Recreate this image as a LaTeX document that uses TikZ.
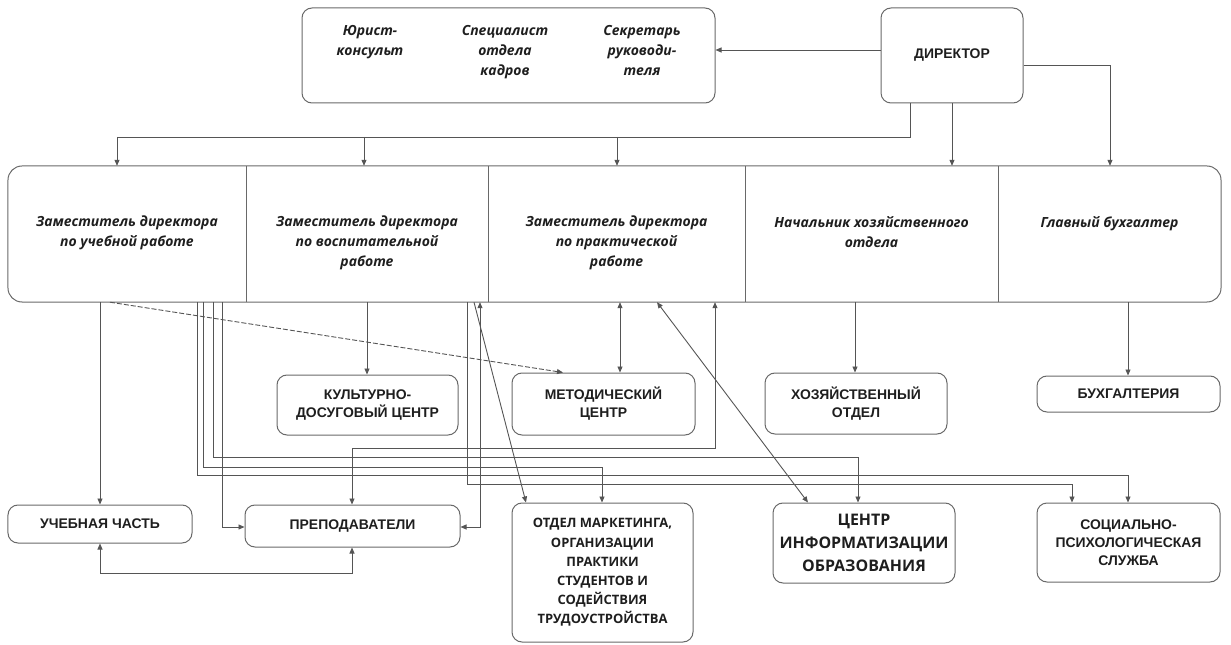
\documentclass[tikz,border=0pt]{standalone}
\usepackage{fontspec}
\setmainfont{Liberation Sans}
\newfontfamily\osans{Open Sans}
\usetikzlibrary{arrows.meta}
\definecolor{lncol}{RGB}{85,85,85}
\definecolor{bxcol}{RGB}{105,105,105}
\definecolor{txcol}{RGB}{30,30,30}
\begin{document}
\begin{tikzpicture}[x=1bp,y=-1bp,
  ln/.style={draw=lncol, line width=0.9bp},
  arr/.style={ln, -{Triangle[length=6bp,width=5bp]}},
  darr/.style={ln, {Triangle[length=6bp,width=5bp]}-{Triangle[length=6bp,width=5bp]}},
  dsh/.style={ln, dash pattern=on 5bp off 2bp, -{Triangle[length=6bp,width=5bp]}},
  rbox/.style={draw=bxcol, line width=1bp, rounded corners=10bp, inner sep=0pt, align=center, text=txcol},
  capf/.style={font=\bfseries\fontsize{14}{18}\selectfont},
  osf/.style={font=\osans\bfseries\fontsize{13}{19.3}\selectfont},
  osb/.style={font=\osans\bfseries\fontsize{16}{23}\selectfont},
  itf/.style={font=\osans\bfseries\itshape\fontsize{14}{20}\selectfont, text=txcol, align=center, inner sep=0pt, anchor=north},
  col/.style={inner sep=0pt, minimum height=136bp},
  divl/.style={draw=bxcol, line width=1bp},
]
\useasboundingbox (0,0) rectangle (1231,645);

% ---------- top level ----------
\node[rbox, minimum width=413bp, minimum height=95bp] (staff) at (508.5,55.5) {};
\node[itf] (s1) at (370,25) {Юрист-\\консульт};
\node[itf] (s2) at (505,25) {Специалист\\отдела\\кадров};
\node[itf] (s3) at (642,25) {Секретарь\\руководи-\\теля};
\node[rbox, capf, minimum width=142bp, minimum height=95bp] (dir) at (952,55.5) {ДИРЕКТОР};

% ---------- deputies row ----------
\node[rbox, minimum width=1213bp, minimum height=136bp, rounded corners=14bp] (row) at (614.5,234) {};
\node[col, minimum width=238bp] (d1) at (127,234) {};
\node[col, minimum width=242bp] (d2) at (367,234) {};
\node[col, minimum width=257bp] (d3) at (616.5,234) {};
\node[col, minimum width=253bp] (d4) at (871.5,234) {};
\node[col, minimum width=223bp] (d5) at (1109.5,234) {};
\draw[divl] (d1.north east) -- (d1.south east);
\draw[divl] (d2.north east) -- (d2.south east);
\draw[divl] (d3.north east) -- (d3.south east);
\draw[divl] (d4.north east) -- (d4.south east);
\node[itf] (t1) at (127,216) {Заместитель директора\\по учебной работе};
\node[itf] (t2) at (367,216) {Заместитель директора\\по воспитательной\\работе};
\node[itf] (t3) at (616.5,216) {Заместитель директора\\по практической\\работе};
\node[itf] (t4) at (871.5,216) {Начальник хозяйственного\\отдела};
\node[itf] (t5) at (1109.5,216) {Главный бухгалтер};

% ---------- second level ----------
\node[rbox, capf, minimum width=181bp, minimum height=60bp] (kdc) at (367.5,405) {КУЛЬТУРНО-\\ДОСУГОВЫЙ ЦЕНТР};
\node[rbox, capf, minimum width=183bp, minimum height=62bp] (mc) at (603.5,404) {МЕТОДИЧЕСКИЙ\\ЦЕНТР};
\node[rbox, capf, minimum width=182bp, minimum height=61bp] (ho) at (856,403.5) {ХОЗЯЙСТВЕННЫЙ\\ОТДЕЛ};
\node[rbox, capf, minimum width=183bp, minimum height=36bp] (buh) at (1128.5,394) {БУХГАЛТЕРИЯ};

% ---------- third level ----------
\node[rbox, capf, minimum width=184bp, minimum height=38bp] (uch) at (100,524) {УЧЕБНАЯ ЧАСТЬ};
\node[rbox, capf, minimum width=215bp, minimum height=42bp] (prep) at (352.5,526) {ПРЕПОДАВАТЕЛИ};
\node[rbox, osf, minimum width=181bp, minimum height=139bp] (mark) at (602.5,572.5) {ОТДЕЛ МАРКЕТИНГА,\\ОРГАНИЗАЦИИ\\ПРАКТИКИ\\СТУДЕНТОВ И\\СОДЕЙСТВИЯ\\ТРУДОУСТРОЙСТВА};
\node[rbox, osb, minimum width=182bp, minimum height=80bp] (cio) at (864,543) {ЦЕНТР\\ИНФОРМАТИЗАЦИИ\\ОБРАЗОВАНИЯ};
\node[rbox, capf, minimum width=183bp, minimum height=79bp] (spc) at (1128.5,542.5) {СОЦИАЛЬНО-\\ПСИХОЛОГИЧЕСКАЯ\\СЛУЖБА};

% ---------- helper coordinates ----------
\coordinate (Y50) at (0,50);
\coordinate (Y65) at (0,65);
\coordinate (Y137) at (0,137);
\coordinate (Y448) at (0,448);
\coordinate (Y457) at (0,457);
\coordinate (Y467) at (0,467);
\coordinate (Y475) at (0,475);
\coordinate (Y484) at (0,484);
\coordinate (Y527) at (0,527);
\coordinate (Y573) at (0,573);
\coordinate (X100) at (100,0);
\coordinate (X110) at (110,0);
\coordinate (X117) at (117,0);
\coordinate (X197) at (197,0);
\coordinate (X203) at (203,0);
\coordinate (X213) at (213,0);
\coordinate (X222) at (222,0);
\coordinate (X352) at (352,0);
\coordinate (X364) at (364,0);
\coordinate (X367) at (367,0);
\coordinate (X467) at (467,0);
\coordinate (X474) at (474,0);
\coordinate (X480) at (480,0);
\coordinate (X526) at (526,0);
\coordinate (X563) at (563,0);
\coordinate (X602) at (602,0);
\coordinate (X617) at (617,0);
\coordinate (X620) at (620,0);
\coordinate (X657) at (657,0);
\coordinate (X715) at (715,0);
\coordinate (X808) at (808,0);
\coordinate (X855) at (855,0);
\coordinate (X858) at (858,0);
\coordinate (X910) at (910,0);
\coordinate (X952) at (952,0);
\coordinate (X1072) at (1072,0);
\coordinate (X1110) at (1110,0);
\coordinate (X1128) at (1128,0);

% ---------- connectors: top ----------
\draw[arr] (dir.west |- Y50) -- (staff.east |- Y50);
\draw[arr] (dir.east |- Y65) -| (d5.north -| X1110);
\draw[arr] (dir.south -| X952) -- (d4.north -| X952);
\draw[ln] (dir.south -| X910) |- (X117 |- Y137);
\draw[arr] (X117 |- Y137) -- (d1.north -| X117);
\draw[arr] (X364 |- Y137) -- (d2.north -| X364);
\draw[arr] (X617 |- Y137) -- (d3.north -| X617);

% ---------- connectors: deputies to units ----------
\draw[arr] (d1.south -| X100) -- (uch.north -| X100);
\draw[darr] (uch.south -| X100) |- (X352 |- Y573) -- (prep.south -| X352);
\draw[dsh] (d1.south -| X110) -- (mc.north -| X563);
\draw[arr] (d2.south -| X367) -- (kdc.north -| X367);
\draw[darr] (d3.south -| X620) -- (mc.north -| X620);
\draw[darr] (prep.north -| X352) |- (X715 |- Y448) -- (d3.south -| X715);
\draw[darr] (d3.south -| X657) -- (cio.north -| X808);
\draw[darr] (d2.south -| X480) |- (prep.east |- Y527);
\draw[arr] (d2.south -| X474) -- (mark.north -| X526);
\draw[arr] (d1.south -| X222) |- (prep.west |- Y527);
\draw[arr] (d1.south -| X213) |- (X858 |- Y457) -- (cio.north -| X858);
\draw[arr] (d1.south -| X203) |- (X602 |- Y467) -- (mark.north -| X602);
\draw[arr] (d1.south -| X197) |- (X1128 |- Y475) -- (spc.north -| X1128);
\draw[arr] (d2.south -| X467) |- (X1072 |- Y484) -- (spc.north -| X1072);
\draw[arr] (d4.south -| X855) -- (ho.north -| X855);
\draw[arr] (d5.south -| X1128) -- (buh.north -| X1128);
\end{tikzpicture}
\end{document}
